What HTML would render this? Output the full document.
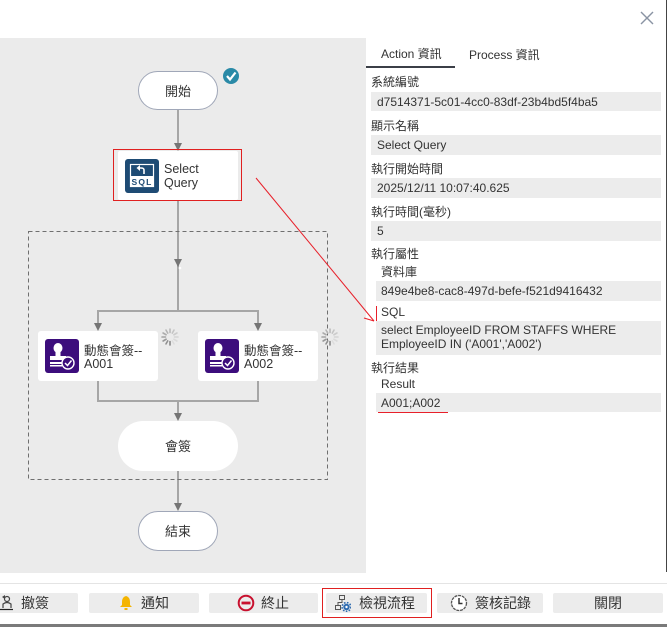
<!DOCTYPE html>
<html><head><meta charset="utf-8">
<style>
*{margin:0;padding:0;box-sizing:border-box}
body{width:667px;height:627px;overflow:hidden;background:#fff;position:relative;font-family:"Liberation Sans","Noto Sans CJK TC",sans-serif;color:#333}
.abs{position:absolute}
.lbl{position:absolute;font-size:12px;color:#333;line-height:16px;white-space:nowrap}
.box{position:absolute;background:#ececec;font-size:12px;color:#333;line-height:14px;white-space:nowrap}
.btn{position:absolute;top:593px;height:20px;background:#ececec;border-radius:2px;font-size:14px;color:#333;line-height:20px;white-space:nowrap}
</style></head><body>
<div class="abs" style="left:0;top:38px;width:366px;height:535px;background:#ebebeb"></div>
<svg class="abs" style="left:0;top:0" width="667" height="627" viewBox="0 0 667 627">
 <defs>
  <g id="spin">
   <g stroke-width="1.6" stroke-linecap="round">
    <line x1="0" y1="-8" x2="0" y2="-4.5" stroke="#bbb"/>
    <line x1="4" y1="-6.9" x2="2.25" y2="-3.9" stroke="#c4c4c4"/>
    <line x1="6.9" y1="-4" x2="3.9" y2="-2.25" stroke="#ccc"/>
    <line x1="8" y1="0" x2="4.5" y2="0" stroke="#d4d4d4"/>
    <line x1="6.9" y1="4" x2="3.9" y2="2.25" stroke="#dadada"/>
    <line x1="4" y1="6.9" x2="2.25" y2="3.9" stroke="#ddd"/>
    <line x1="0" y1="8" x2="0" y2="4.5" stroke="#888"/>
    <line x1="-4" y1="6.9" x2="-2.25" y2="3.9" stroke="#8f8f8f"/>
    <line x1="-6.9" y1="4" x2="-3.9" y2="2.25" stroke="#999"/>
    <line x1="-8" y1="0" x2="-4.5" y2="0" stroke="#a3a3a3"/>
    <line x1="-6.9" y1="-4" x2="-3.9" y2="-2.25" stroke="#acacac"/>
    <line x1="-4" y1="-6.9" x2="-2.25" y2="-3.9" stroke="#b4b4b4"/>
   </g>
  </g>
  <g id="stamp">
   <rect x="0" y="0" width="34" height="34" rx="3" fill="#3c0d7c"/>
   <ellipse cx="13" cy="9" rx="4.5" ry="5" fill="#fff"/>
   <rect x="10.5" y="12" width="5" height="5" fill="#fff"/>
   <rect x="5" y="17" width="16" height="4" fill="#fff"/>
   <rect x="5" y="23" width="12" height="2" fill="#fff"/>
   <rect x="5" y="26" width="12" height="1.5" fill="#fff"/>
   <circle cx="23" cy="24" r="6" fill="#3c0d7c" stroke="#fff" stroke-width="1.4"/>
   <polyline points="20,24 22.5,26.5 26.5,21.5" fill="none" stroke="#fff" stroke-width="1.5"/>
  </g>
 </defs>
 <g stroke="#a6a6a6" stroke-width="2" fill="none">
  <line x1="178" y1="110" x2="178" y2="144"/>
  <line x1="178" y1="201" x2="178" y2="311"/>
  <polyline points="98,323 98,311 258,311 258,323"/>
  <polyline points="98,381 98,401 258,401 258,381"/>
  <line x1="178" y1="401" x2="178" y2="414"/>
  <line x1="178" y1="471" x2="178" y2="504"/>
 </g>
 <g fill="#757575">
  <polygon points="174,143 182,143 178,151"/>
  <polygon points="174,259 182,259 178,267"/>
  <polygon points="94,323 102,323 98,331"/>
  <polygon points="254,323 262,323 258,331"/>
  <polygon points="174,413 182,413 178,421"/>
  <polygon points="174,503 182,503 178,511"/>
 </g>
 <circle cx="180" cy="268" r="1.3" fill="#fff"/>
 <rect x="28.5" y="231.5" width="299" height="248" fill="none" stroke="#6f6f6f" stroke-width="1" stroke-dasharray="4,3"/>
 <rect x="138.5" y="71.5" width="79" height="38" rx="19" fill="#fff" stroke="#a0a7b8" stroke-width="1"/>
 <text x="178" y="96" font-size="13" text-anchor="middle" fill="#333" font-family="Liberation Sans, Noto Sans CJK TC, sans-serif">開始</text>
 <circle cx="231" cy="76" r="8" fill="#2a8aa7"/>
 <polyline points="227,76 230,79.5 235.5,72.5" fill="none" stroke="#fff" stroke-width="2.2"/>
 <rect x="113.5" y="149.5" width="128" height="51" fill="none" stroke="#e02020" stroke-width="1"/>
 <rect x="118" y="151" width="120" height="49" rx="2" fill="#fff"/>
 <rect x="125" y="159" width="34" height="34" rx="3" fill="#1e4b74"/>
 <rect x="130.5" y="164.5" width="23" height="22" fill="none" stroke="#fff" stroke-width="1.2"/>
 <rect x="131" y="176" width="22" height="10.5" fill="#fff"/>
 <text x="142" y="185" font-size="8.5" font-weight="bold" text-anchor="middle" fill="#1e4b74" letter-spacing="1.2" font-family="Liberation Sans, sans-serif">SQL</text>
 <path d="M144,174 L144,170 Q144,168 141,168 L139,168" fill="none" stroke="#fff" stroke-width="1.6"/>
 <polygon points="136.5,168 140,165 140,171" fill="#fff"/>
 <text x="164" y="173" font-size="12.5" fill="#333" font-family="Liberation Sans, sans-serif">Select</text>
 <text x="164" y="187" font-size="12.5" fill="#333" font-family="Liberation Sans, sans-serif">Query</text>
 <rect x="38" y="331" width="120" height="50" rx="3" fill="#fff"/>
 <rect x="198" y="331" width="120" height="50" rx="3" fill="#fff"/>
 <use href="#stamp" x="45" y="339"/>
 <use href="#stamp" x="205" y="339"/>
 <g font-size="12.5" fill="#333" font-family="Liberation Sans, Noto Sans CJK TC, sans-serif">
  <text x="84" y="355">動態會簽--</text>
  <text x="84" y="368">A001</text>
  <text x="244" y="355">動態會簽--</text>
  <text x="244" y="368">A002</text>
 </g>
 <use href="#spin" x="170" y="337"/>
 <use href="#spin" x="330" y="337"/>
 <rect x="118" y="421" width="120" height="50" rx="25" fill="#fff"/>
 <text x="178" y="451" font-size="13" text-anchor="middle" fill="#333" font-family="Liberation Sans, Noto Sans CJK TC, sans-serif">會簽</text>
 <rect x="138.5" y="511.5" width="79" height="39" rx="19.5" fill="#fff" stroke="#a0a7b8" stroke-width="1"/>
 <text x="178" y="536" font-size="13" text-anchor="middle" fill="#333" font-family="Liberation Sans, Noto Sans CJK TC, sans-serif">結束</text>
 <line x1="256" y1="178" x2="374" y2="321" stroke="#e8202a" stroke-width="1"/>
 <line x1="364" y1="318" x2="374" y2="321" stroke="#e8202a" stroke-width="1"/>
 <line x1="376.5" y1="306" x2="376.5" y2="323" stroke="#e8202a" stroke-width="1"/>
 <line x1="378" y1="412.5" x2="448" y2="412.5" stroke="#e8202a" stroke-width="1"/>
 <g stroke="#8a93a3" stroke-width="1.4">
  <line x1="641" y1="12" x2="653" y2="24"/>
  <line x1="653" y1="12" x2="641" y2="24"/>
 </g>
 <line x1="666.5" y1="0" x2="666.5" y2="572" stroke="#444" stroke-width="1"/>
 <rect x="366" y="66" width="89" height="2" fill="#3b3f47"/>
 <line x1="0" y1="583.5" x2="667" y2="583.5" stroke="#e4e4e4" stroke-width="1"/>
 <rect x="0" y="624" width="667" height="3" fill="#7a7a7a"/>
 <rect x="322.5" y="588.5" width="109" height="29" fill="none" stroke="#e02020" stroke-width="1"/>
</svg>

<div class="lbl" style="left:381px;top:46px">Action 資訊</div>
<div class="lbl" style="left:469px;top:47px">Process 資訊</div>

<div class="lbl" style="left:371px;top:74px">系統編號</div>
<div class="box" style="left:371px;top:92px;width:290px;height:19px;padding:3px 6px">d7514371-5c01-4cc0-83df-23b4bd5f4ba5</div>
<div class="lbl" style="left:371px;top:118px">顯示名稱</div>
<div class="box" style="left:371px;top:135px;width:290px;height:20px;padding:3px 6px">Select Query</div>
<div class="lbl" style="left:371px;top:161px">執行開始時間</div>
<div class="box" style="left:371px;top:178px;width:290px;height:20px;padding:3px 6px">2025/12/11 10:07:40.625</div>
<div class="lbl" style="left:371px;top:204px">執行時間(毫秒)</div>
<div class="box" style="left:371px;top:221px;width:290px;height:20px;padding:3px 6px">5</div>
<div class="lbl" style="left:371px;top:246px">執行屬性</div>
<div class="lbl" style="left:381px;top:264px">資料庫</div>
<div class="box" style="left:376px;top:281px;width:285px;height:20px;padding:3px 5px">849e4be8-cac8-497d-befe-f521d9416432</div>
<div class="lbl" style="left:381px;top:304px">SQL</div>
<div class="box" style="left:376px;top:321px;width:285px;height:34px;padding:2px 5px">select EmployeeID FROM STAFFS WHERE<br>EmployeeID IN ('A001','A002')</div>
<div class="lbl" style="left:371px;top:360px">執行結果</div>
<div class="lbl" style="left:381px;top:376px">Result</div>
<div class="box" style="left:376px;top:393px;width:285px;height:19px;padding:3px 5px">A001;A002</div>

<div class="btn" style="left:-4px;width:82px;padding-left:25px">撤簽</div>
<svg class="abs" style="left:0;top:594px" width="16" height="18" viewBox="0 0 16 18">
 <circle cx="7" cy="5" r="2.5" fill="none" stroke="#444" stroke-width="1.2"/>
 <path d="M3,14 L3,10 Q7,7 11,10 L11,14" fill="none" stroke="#444" stroke-width="1.2"/>
 <line x1="0" y1="15.5" x2="13" y2="15.5" stroke="#222" stroke-width="1.2"/>
 <path d="M2,3 L5,1 L5,5 Z" fill="#444"/>
</svg>
<div class="btn" style="left:89px;width:110px;padding-left:52px">通知</div>
<svg class="abs" style="left:119px;top:595px" width="14" height="16" viewBox="0 0 14 16">
 <path d="M7,1 Q3,2 3,7 L3,10 L1,12 L13,12 L11,10 L11,7 Q11,2 7,1 Z" fill="#f4b400"/>
 <rect x="5.5" y="13" width="3" height="2" fill="#f4b400"/>
</svg>
<div class="btn" style="left:209px;width:109px;padding-left:52px">終止</div>
<svg class="abs" style="left:237px;top:594px" width="18" height="18" viewBox="0 0 18 18">
 <circle cx="9" cy="9" r="7.3" fill="none" stroke="#c8102e" stroke-width="2"/>
 <rect x="4.5" y="7.6" width="9" height="2.8" fill="#c8102e"/>
</svg>
<div class="btn" style="left:326px;width:101px;padding-left:33px">檢視流程</div>
<svg class="abs" style="left:335px;top:594px" width="16" height="18" viewBox="0 0 16 18">
 <rect x="4.5" y="1.5" width="5" height="4" fill="none" stroke="#555" stroke-width="1"/>
 <rect x="0.5" y="11.5" width="5" height="4" fill="none" stroke="#555" stroke-width="1"/>
 <path d="M7,5.5 L7,8.5 L3,8.5 L3,11.5" fill="none" stroke="#555" stroke-width="1"/>
 <circle cx="11.5" cy="13" r="3.2" fill="#2e6bb0"/>
 <circle cx="11.5" cy="13" r="4.4" fill="none" stroke="#2e6bb0" stroke-width="1.6" stroke-dasharray="1.6,1.4"/>
 <circle cx="11.5" cy="13" r="1.2" fill="#fff"/>
</svg>
<div class="btn" style="left:437px;width:106px;padding-left:38px">簽核記錄</div>
<svg class="abs" style="left:450px;top:594px" width="18" height="18" viewBox="0 0 18 18">
 <circle cx="9" cy="9" r="7.5" fill="#fff" stroke="#555" stroke-width="1.3" stroke-dasharray="3,0.8"/>
 <path d="M9,4 L9,9.5 L12.5,9.5" fill="none" stroke="#333" stroke-width="1.5"/>
</svg>
<div class="btn" style="left:553px;width:110px;text-align:center">關閉</div>
</body></html>
